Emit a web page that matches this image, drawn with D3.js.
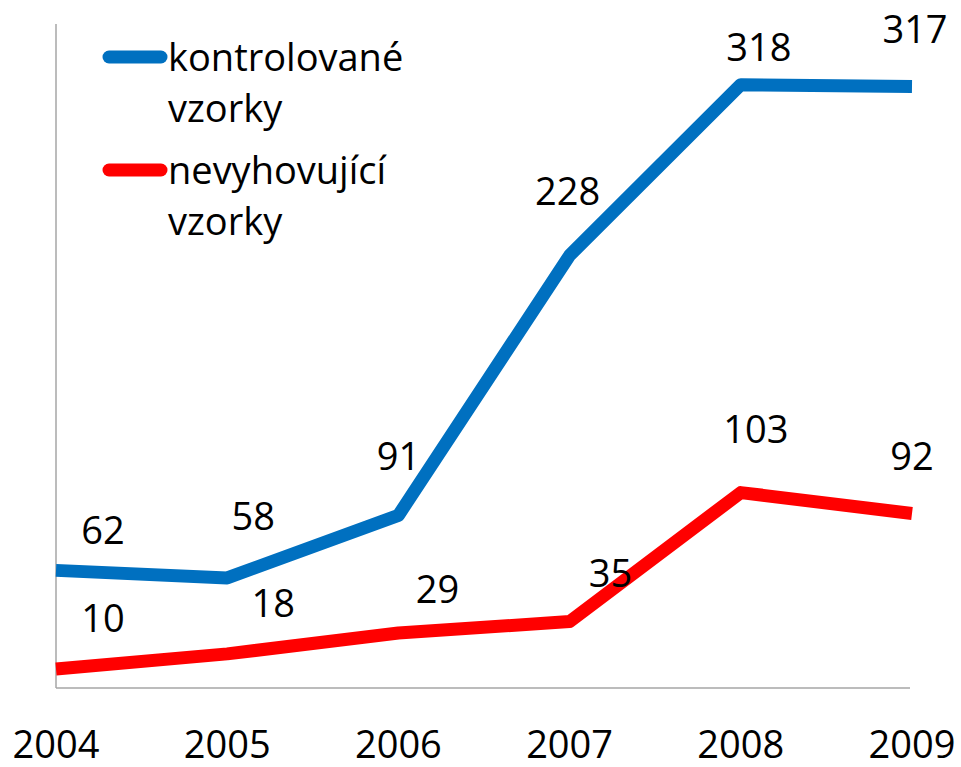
<!DOCTYPE html>
<html>
<head>
<meta charset="utf-8">
<script src="https://cdn.jsdelivr.net/npm/d3@7"></script>
<style>
  body { margin: 0; background: #fff; }
  text { font-family: "Open Sans", "Noto Sans", sans-serif; fill: #000; }
</style>
</head>
<body>
<div id="chart"></div>
<script>
var years = ["2004", "2005", "2006", "2007", "2008", "2009"];
var kontrolovane = [62, 58, 91, 228, 318, 317];
var nevyhovujici = [10, 18, 29, 35, 103, 92];
var seriesNames = [["kontrolované", "vzorky"], ["nevyhovující", "vzorky"]];
var colors = ["#0070C0", "#FF0000"];

// label nudges from the point (dx, dy), like the hand-placed Excel labels
var blueNudge = [[47, -26], [26, -48], [0, -45], [-2, -50], [18, -24], [3, -44]];
var redNudge = [[47, -37], [46, -37], [39, -30], [41, -35], [15, -50], [0, -43]];

var width = 961, height = 767;
var FONT = 38;

var svg = d3.select("#chart").append("svg")
    .attr("width", width)
    .attr("height", height);

var x = d3.scalePoint()
    .domain(years)
    .range([56, 912]);

var y = d3.scaleLinear()
    .domain([0, 350])
    .range([688, 24]);

// axes: just the lines, no ticks
svg.append("line")
    .attr("x1", x(years[0])).attr("x2", x(years[0]))
    .attr("y1", y(350)).attr("y2", y(0))
    .attr("stroke", "#a6a6a6").attr("stroke-width", 1.5);

svg.append("line")
    .attr("x1", x(years[0])).attr("x2", 910)
    .attr("y1", y(0)).attr("y2", y(0))
    .attr("stroke", "#a6a6a6").attr("stroke-width", 1.5);

svg.selectAll(".year")
    .data(years)
  .enter().append("text")
    .attr("class", "year")
    .attr("x", function(d) { return x(d); })
    .attr("y", 758)
    .attr("text-anchor", "middle")
    .style("font-size", FONT + "px")
    .text(function(d) { return d; });

var line = d3.line()
    .x(function(d, i) { return x(years[i]); })
    .y(function(d) { return y(d); });

var series = [
  {values: kontrolovane, nudge: blueNudge, color: colors[0]},
  {values: nevyhovujici, nudge: redNudge, color: colors[1]}
];

// red drawn first, blue on top
series.slice().reverse().forEach(function(s) {
  svg.append("path")
      .datum(s.values)
      .attr("d", line)
      .attr("fill", "none")
      .attr("stroke", s.color)
      .attr("stroke-width", 13)
      .attr("stroke-linejoin", "round");
});

series.forEach(function(s) {
  svg.selectAll(null)
      .data(s.values)
    .enter().append("text")
      .attr("x", function(d, i) { return x(years[i]) + s.nudge[i][0]; })
      .attr("y", function(d, i) { return y(d) + s.nudge[i][1]; })
      .attr("text-anchor", "middle")
      .style("font-size", FONT + "px")
      .text(function(d) { return d; });
});

// legend
var legend = svg.append("g").attr("transform", "translate(103,0)");
var legendRows = [57, 170];
seriesNames.forEach(function(name, i) {
  var g = legend.append("g").attr("transform", "translate(0," + legendRows[i] + ")");
  g.append("line")
      .attr("x1", 6).attr("x2", 58)
      .attr("stroke", colors[i])
      .attr("stroke-width", 13)
      .attr("stroke-linecap", "round");
  g.selectAll("text")
      .data(name)
    .enter().append("text")
      .attr("x", 65)
      .attr("y", function(d, j) { return 14 + j * 51; })
      .style("font-size", FONT + "px")
      .text(function(d) { return d; });
});
</script>
</body>
</html>
